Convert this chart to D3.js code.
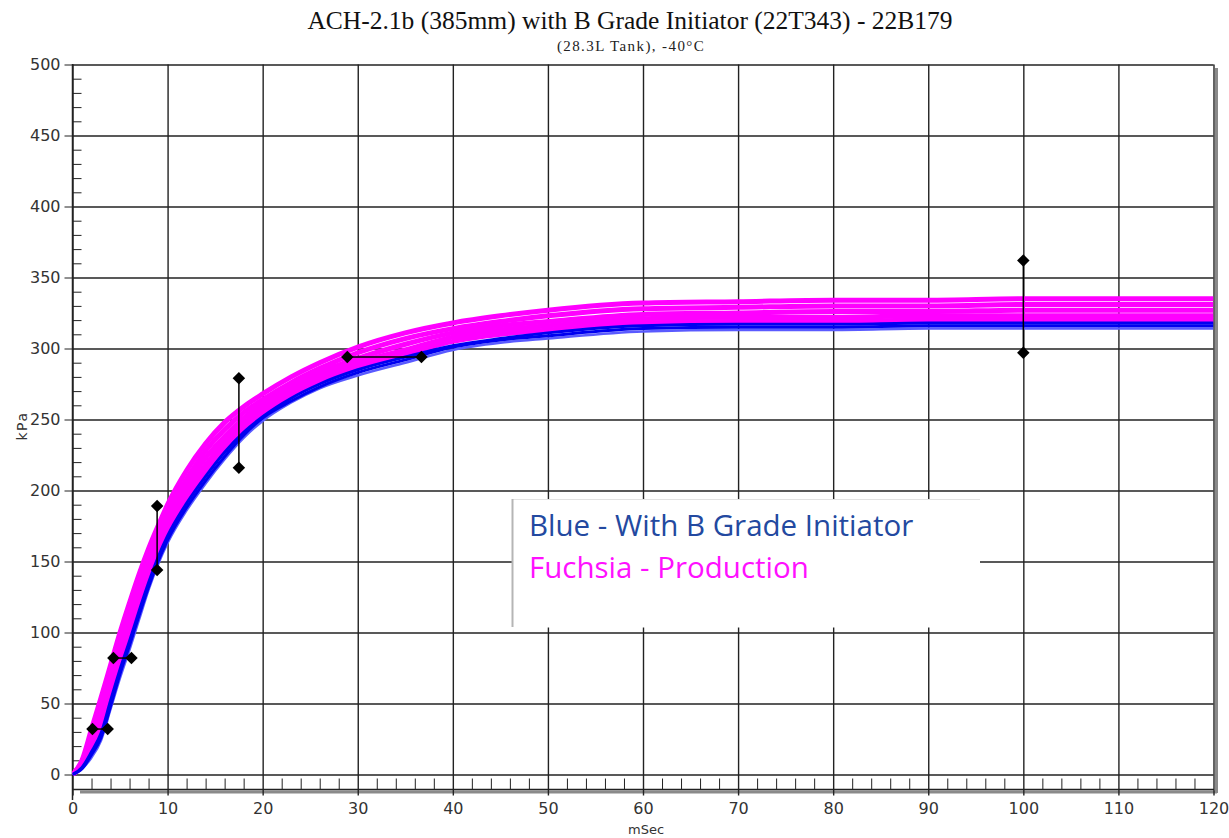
<!DOCTYPE html>
<html>
<head>
<meta charset="utf-8">
<script src="https://cdn.jsdelivr.net/npm/d3@7"></script>
<style>
  body { margin: 0; background: #fff; }
  .tick text { font-family: "DejaVu Sans", sans-serif; font-size: 16px; fill: #333; }
</style>
</head>
<body>
<div id="chart"></div>
<script>
// time samples (mSec) shared by all traces
const tMs = [0, 1, 2, 3, 4, 5, 6, 7, 8, 9, 10, 12, 14, 16, 18, 20, 23, 26, 30, 35, 40, 45, 50, 60, 70, 80, 90, 100, 110, 120];

// fuchsia traces - production (kPa)
const prod1 = [0, 10, 32, 54, 77, 100, 121, 141, 159, 175, 190, 214, 233, 248, 259, 268, 280, 290, 301, 311, 318, 323, 327, 332, 333, 334, 334, 335, 335, 335];
const prod2 = [0, 9, 28, 48, 71, 94, 114, 135, 153, 170, 185, 208, 228, 243, 255, 264, 276, 286, 297, 307, 314, 319, 323, 328, 329, 330, 330, 331, 331, 331];
const prod3 = [0, 8, 24, 43, 65, 88, 108, 129, 148, 165, 180, 203, 223, 238, 251, 261, 273, 283, 293, 303, 311, 316, 319, 324, 325, 326, 326, 327, 327, 327];
const prod4 = [0, 7, 21, 38, 60, 82, 103, 123, 143, 160, 176, 198, 218, 234, 247, 258, 270, 280, 290, 299, 308, 313, 316, 321, 322, 322, 323, 323, 323, 323];
const prod5 = [0, 6, 18, 33, 55, 78, 98, 119, 139, 156, 172, 194, 214, 230, 244, 255, 267, 277, 287, 296, 305, 310, 313, 318, 319, 319, 320, 320, 320, 320];

// blue traces - with B grade initiator (kPa)
const bGrade1 = [0, 5, 16, 29, 52, 74, 94, 115, 135, 153, 168, 191, 210, 227, 241, 252, 265, 275, 285, 294, 302, 307, 311, 316, 317, 317, 318, 318, 318, 318];
const bGrade2 = [0, 4, 14, 26, 48, 71, 91, 112, 132, 150, 165, 188, 207, 224, 239, 251, 263, 273, 283, 292, 301, 306, 309, 314, 315, 315, 316, 316, 316, 316];
const bGrade3 = [0, 4, 12, 24, 46, 68, 88, 109, 130, 148, 163, 186, 205, 222, 237, 249, 262, 272, 281, 290, 299, 304, 307, 312, 313, 313, 314, 314, 314, 314];

// tolerance markers, consecutive points are joined in pairs
const markX = [2.1, 3.7, 4.3, 6.2, 8.9, 8.9, 17.5, 17.5, 28.9, 36.7, 100, 100];
const markY = [32, 32, 82, 82, 189, 144, 279, 216, 294, 294, 362, 297];

const xTicks = [0, 10, 20, 30, 40, 50, 60, 70, 80, 90, 100, 110, 120];
const yTicks = [0, 50, 100, 150, 200, 250, 300, 350, 400, 450, 500];

const W = 1229, H = 838;
const x = d3.scaleLinear().domain([0, 120]).range([72.5, 1213.5]);
const y = d3.scaleLinear().domain([0, 500]).range([774.5, 64.5]);
const svg = d3.select("#chart").append("svg").attr("width", W).attr("height", H);

// shadow of the frame
svg.append("line").attr("x1", 80).attr("x2", 1217).attr("y1", 792).attr("y2", 792).attr("stroke", "#8a8a8a").attr("stroke-width", 3);
svg.append("line").attr("x1", 1216.5).attr("x2", 1216.5).attr("y1", 68).attr("y2", 793).attr("stroke", "#8a8a8a").attr("stroke-width", 3);

// grid
svg.append("g").attr("transform", "translate(0,64.5)").attr("color", "#222")
  .call(d3.axisBottom(x).tickValues(xTicks).tickSize(731).tickFormat(""))
  .call(g => g.select(".domain").remove())
  .selectAll("line").attr("stroke-width", 1.4);
svg.append("g").attr("transform", "translate(72.5,0)").attr("color", "#222")
  .call(d3.axisRight(y).tickValues(yTicks).tickSize(1141).tickFormat(""))
  .call(g => g.select(".domain").remove())
  .selectAll("line").attr("stroke-width", 1.4);

// y axis
svg.append("g").attr("transform", "translate(72.5,0)").attr("color", "#222")
  .call(d3.axisLeft(y).tickValues(yTicks).tickSize(8).tickPadding(4).tickSizeOuter(0))
  .call(g => g.select(".domain").remove());
svg.append("g").attr("transform", "translate(72.5,0)").attr("color", "#222")
  .call(d3.axisRight(y).tickValues(d3.range(10, 500, 10).filter(v => v % 50)).tickSize(9).tickFormat(""))
  .call(g => g.select(".domain").remove());
svg.append("line").attr("x1", 72.5).attr("x2", 72.5).attr("y1", 64).attr("y2", 800).attr("stroke", "#222").attr("stroke-width", 1.5);

// x axis strip
svg.append("g").attr("transform", "translate(0,789.5)").attr("color", "#222")
  .call(d3.axisTop(x).tickValues(d3.range(2, 120, 2).filter(v => v % 10)).tickSize(11).tickFormat(""))
  .call(g => g.select(".domain").remove());
svg.append("line").attr("x1", 72).attr("x2", 1214).attr("y1", 789.5).attr("y2", 789.5).attr("stroke", "#222").attr("stroke-width", 1.3);
svg.append("g").attr("transform", "translate(0,795)").attr("color", "#222")
  .call(d3.axisBottom(x).tickValues(xTicks).tickSize(0).tickPadding(8))
  .call(g => g.select(".domain").remove());

// traces
svg.append("clipPath").attr("id", "plot").append("rect")
  .attr("x", x(0)).attr("y", y(500)).attr("width", x(120) - x(0)).attr("height", y(0) - y(500) + 1);
const line = d3.line().x((d, i) => x(tMs[i])).y(d => y(d)).curve(d3.curveMonotoneX);
const traces = svg.append("g").attr("clip-path", "url(#plot)").attr("fill", "none");
[prod5, prod4, prod3, prod2, prod1].forEach(s => {
  traces.append("path").attr("d", line(s)).attr("stroke", "#ff00ff").attr("stroke-width", 5);
});
traces.append("path").attr("d", line(bGrade3)).attr("stroke", "#5a5aff").attr("stroke-width", 2.5);
[bGrade2, bGrade1].forEach(s => {
  traces.append("path").attr("d", line(s)).attr("stroke", "#0000f0").attr("stroke-width", 3);
});

// tolerance markers
const pairs = d3.range(0, markX.length, 2);
svg.append("g").selectAll("line").data(pairs).enter().append("line")
  .attr("x1", i => x(markX[i])).attr("y1", i => y(markY[i]))
  .attr("x2", i => x(markX[i + 1])).attr("y2", i => y(markY[i + 1]))
  .attr("stroke", "#000").attr("stroke-width", 1.5);
svg.append("g").selectAll("path").data(markX).enter().append("path")
  .attr("d", d3.symbol(d3.symbolSquare, 78))
  .attr("transform", (d, i) => `translate(${x(d)},${y(markY[i])}) rotate(45)`)
  .attr("fill", "#000");

// legend box
const lg = svg.append("g");
lg.append("rect").attr("x", 512).attr("y", 499.5).attr("width", 468).attr("height", 128).attr("fill", "#fff");
lg.append("line").attr("x1", 512).attr("x2", 980).attr("y1", 499.5).attr("y2", 499.5).attr("stroke", "#e2e2e2");
lg.append("line").attr("x1", 512.5).attr("x2", 512.5).attr("y1", 499).attr("y2", 627).attr("stroke", "#b5b5b5").attr("stroke-width", 2);
lg.append("text").attr("x", 529).attr("y", 536).style("font-family", "'Open Sans', sans-serif").style("font-size", "29.5px").attr("fill", "#2349a0").text("Blue - With B Grade Initiator");
lg.append("text").attr("x", 529).attr("y", 578).style("font-family", "'Open Sans', sans-serif").style("font-size", "29.5px").attr("fill", "#ff10ff").text("Fuchsia - Production");

// titles
svg.append("text").attr("x", 630).attr("y", 29).attr("text-anchor", "middle").style("font-family", "'Liberation Serif', serif").style("font-size", "25.5px").attr("fill", "#111").text("ACH-2.1b (385mm) with B Grade Initiator (22T343) - 22B179");
svg.append("text").attr("x", 631).attr("y", 51).attr("text-anchor", "middle").style("font-family", "'Liberation Serif', serif").style("font-size", "15px").style("letter-spacing", "1.4px").attr("fill", "#222").text("(28.3L Tank), -40°C");
svg.append("text").attr("transform", "translate(27,426) rotate(-90)").attr("text-anchor", "middle").style("font-family", "'DejaVu Sans', sans-serif").style("font-size", "14px").style("letter-spacing", "1.5px").attr("fill", "#333").text("kPa");
svg.append("text").attr("x", 646).attr("y", 834).attr("text-anchor", "middle").style("font-family", "'DejaVu Sans', sans-serif").style("font-size", "13px").attr("fill", "#333").text("mSec");
</script>
</body>
</html>
